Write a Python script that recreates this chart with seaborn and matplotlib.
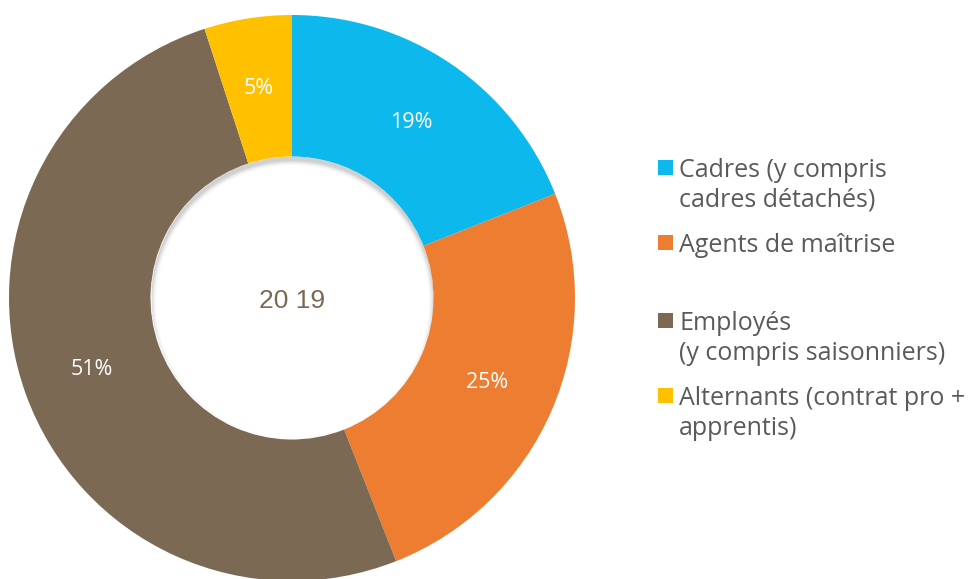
import numpy as np
import matplotlib
matplotlib.use("Agg")
import matplotlib.pyplot as plt
from matplotlib.patches import Rectangle, Circle
import seaborn as sns

# Workforce breakdown by category, 2019
categories = [
    "Cadres (y compris\ncadres détachés)",
    "Agents de maîtrise",
    "Employés\n(y compris saisonniers)",
    "Alternants (contrat pro +\napprentis)",
]
shares = [19, 25, 51, 5]
colors = ["#0DB8EC", "#ED7D31", "#7B6954", "#FFC000"]
year_label = "20 19"

sns.set_theme(style="white")
plt.rcParams["font.family"] = ["Open Sans", "DejaVu Sans"]

W, H = 976, 579
fig = plt.figure(figsize=(W / 100, H / 100), dpi=100)
fig.patch.set_facecolor("white")

# donut placement in pixels (centre x, centre y from top, outer radius)
cx, cy, R = 292, 298, 283
ax = fig.add_axes([(cx - R) / W, (H - cy - R) / H, 2 * R / W, 2 * R / H])
ax.axis("off")

ring = 0.5
wedges, _, autotexts = ax.pie(
    shares,
    colors=colors,
    startangle=90,
    counterclock=False,
    radius=1.0,
    autopct=lambda p: f"{p:.0f}%",
    pctdistance=0.75,
    wedgeprops=dict(width=ring, linewidth=0, edgecolor="none"),
    textprops=dict(color="white", fontsize=15.5),
)
ax.set_xlim(-1, 1)
ax.set_ylim(-1, 1)
ax.set_aspect("equal")

# soft inner shadow cast into the hole along its upper rim
r_in = 1.0 - ring
n = 400
xs = np.linspace(-r_in, r_in, n)
X, Y = np.meshgrid(xs, xs)
off, w = 0.015, 0.022
dist = np.sqrt(X ** 2 + (Y + off) ** 2)
t = np.clip((dist - (r_in - w)) / w, 0, 1)
alpha = 0.28 * t ** 2
alpha[np.sqrt(X ** 2 + Y ** 2) > r_in] = 0
rgba = np.zeros((n, n, 4))
rgba[..., :3] = 0.35
rgba[..., 3] = alpha
img = ax.imshow(rgba, extent=[-r_in, r_in, -r_in, r_in], origin="lower",
                interpolation="bilinear", zorder=3)
img.set_clip_path(Circle((0, 0), r_in, transform=ax.transData))
ax.set_xlim(-1, 1)
ax.set_ylim(-1, 1)

ax.text(0, -0.01, year_label, ha="center", va="center", fontsize=19,
        color="#7B6954", family=["Liberation Sans", "DejaVu Sans"], zorder=4)

# legend drawn as coloured squares with wrapped labels
legend_y = [167, 242, 320, 395]
text_color = "#5A5A5A"
sq = 15
for label, col, y in zip(categories, colors, legend_y):
    fig.patches.append(Rectangle(((658) / W, (H - y - sq / 2) / H), sq / W, sq / H,
                                 transform=fig.transFigure, facecolor=col,
                                 edgecolor="none"))
    fig.text(679 / W, (H - y + 9) / H, label, ha="left", va="top",
             fontsize=18, color=text_color, linespacing=1.25)

fig.savefig("out.png", dpi=100, facecolor="white")
